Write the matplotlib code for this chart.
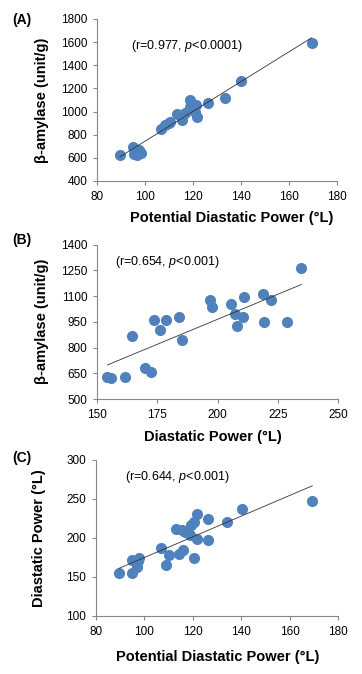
import numpy as np
import matplotlib
matplotlib.use('Agg')
import matplotlib.pyplot as plt
from matplotlib.patches import Rectangle

plt.rcParams['font.family'] = ['Liberation Sans', 'DejaVu Sans']
plt.rcParams['mathtext.fontset'] = 'custom'
plt.rcParams['mathtext.rm'] = 'Liberation Sans'
plt.rcParams['mathtext.it'] = 'Liberation Sans:italic'

# (A) potential DP vs beta-amylase
pdp_a = [89.5, 95.0, 95.3, 96.8, 97.6, 98.2, 106.5, 108.3, 109.8, 110.6, 113.2, 115.3,
         116.7, 118.8, 118.8, 120.8, 121.3, 121.8, 126.4, 133.5, 139.9, 169.4]
amy_a = [628, 690, 633, 625, 668, 640, 847, 880, 905, 912, 982, 927,
         985, 1100, 1042, 999, 1057, 956, 1077, 1113, 1268, 1592]

# (B) DP vs beta-amylase
dp_b = [154.3, 155.9, 161.5, 164.5, 170.1, 172.5, 173.5, 176.3, 178.8, 183.9, 185.4,
        197.0, 197.7, 205.7, 207.1, 208.1, 210.6, 210.9, 218.9, 219.2, 222.3, 228.6, 234.8]
amy_b = [628, 624, 628, 869, 682, 659, 962, 900, 962, 979, 845,
         1074, 1037, 1051, 993, 925, 977, 1095, 1111, 950, 1074, 946, 1266]

# (C) potential DP vs DP
pdp_c = [89.6, 95.1, 95.1, 96.9, 97.2, 98.0, 106.9, 108.8, 110.3, 113.1, 114.3, 115.4, 116.0,
         116.8, 118.0, 119.0, 119.4, 120.7, 120.7, 121.9, 121.9, 126.4, 126.4, 134.0, 140.4, 169.4]
dp_c = [155.7, 155.7, 171.5, 163.0, 170.0, 173.7, 187.4, 165.0, 178.0, 212.0, 179.7, 210.0, 184.0,
        208.0, 208.0, 203.6, 216.5, 220.8, 174.5, 230.6, 199.0, 224.0, 198.0, 220.0, 237.0, 247.3]

BLUE = '#4F81BD'
AXGREY = '#868686'

fig = plt.figure(figsize=(3.62, 6.74), dpi=100)


def panel(rect, x, y, xlim, xticks, ylim, yticks, xlabel, ylabel, note, note_xy,
          xlab_xy, ylab_x):
    ax = fig.add_axes(rect)
    ax.scatter(x, y, s=64, color=BLUE, zorder=2, linewidths=0)
    k, b = np.polyfit(x, y, 1)
    xs = np.array([min(x), max(x)])
    ax.plot(xs, k * xs + b, color='#333333', lw=0.6, zorder=3)
    ax.set_xlim(*xlim)
    ax.set_ylim(*ylim)
    ax.set_xticks(xticks)
    ax.set_yticks(yticks)
    for s in ['top', 'right']:
        ax.spines[s].set_visible(False)
    for s in ['left', 'bottom']:
        ax.spines[s].set_color(AXGREY)
        ax.spines[s].set_linewidth(0.8)
        ax.spines[s].set_clip_on(False)
    ax.tick_params(axis='both', direction='out', length=3, width=0.8,
                   color=AXGREY, labelsize=8.5, labelcolor='black')
    ax.tick_params(axis='y', pad=4)
    ax.tick_params(axis='x', pad=4)
    ax.set_xlabel(xlabel, fontsize=10.5, fontweight='bold')
    ax.set_ylabel(ylabel, fontsize=10.5, fontweight='bold')
    ax.xaxis.set_label_coords(*xlab_xy)
    ax.yaxis.set_label_coords(ylab_x, 0.5)
    ax.text(note_xy[0], note_xy[1], note, fontsize=9, va='center', ha='left')
    return ax


panel([0.268, 0.7315, 0.663, 0.2404], pdp_a, amy_a, (80, 180), range(80, 181, 20),
      (400, 1800), range(400, 1801, 200), 'Potential Diastatic Power (°L)',
      'β-amylase (unit/g)', r'(r=0.977, $p$<0.0001)', (94.3, 1569), (0.56, -0.185), -0.2)

panel([0.268, 0.408, 0.666, 0.2292], dp_b, amy_b, (150, 250), range(150, 251, 25),
      (500, 1400), range(500, 1401, 150), 'Diastatic Power (°L)',
      'β-amylase (unit/g)', r'(r=0.654, $p$<0.001)', (157.3, 1299), (0.48, -0.2), -0.2)

panel([0.265, 0.0861, 0.6685, 0.2315], pdp_c, dp_c, (80, 180), range(80, 181, 20),
      (100, 300), range(100, 301, 50), 'Potential Diastatic Power (°L)',
      'Diastatic Power (°L)', r'(r=0.644, $p$<0.001)', (92.1, 277.7), (0.502, -0.218), -0.207)

for lab, ypx in [('(A)', 20), ('(B)', 240), ('(C)', 458)]:
    fig.text(12 / 362, 1 - ypx / 674, lab, fontsize=10, fontweight='bold', va='center', ha='left')

# panel B was cropped on the right in the source figure
fig.patches.append(Rectangle((348 / 362, 0.36), 1, 0.3, transform=fig.transFigure,
                             color='white', zorder=10))

fig.savefig('out.png', dpi=100)
